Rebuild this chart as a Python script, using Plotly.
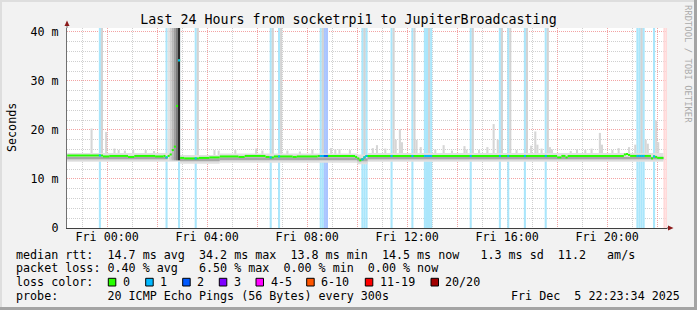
import plotly.graph_objects as go
from datetime import datetime, timedelta

# ---------------- data ----------------
TITLE = "Last 24 Hours from socketrpi1 to JupiterBroadcasting"

x_tick_times = ["00:00", "02:00", "04:00", "06:00", "08:00", "10:00",
                "12:00", "14:00", "16:00", "18:00", "20:00", "22:00"]
x_tick_text = ["Fri 00:00", "", "Fri 04:00", "", "Fri 08:00", "",
               "Fri 12:00", "", "Fri 16:00", "", "Fri 20:00", ""]
y_tick_vals = [0, 10, 20, 30, 40]
y_tick_text = ["0", "10 m", "20 m", "30 m", "40 m"]

# median RTT (ms), step values starting at each time
median_t = ["22:24", "23:50", "00:05", "00:50", "01:05", "01:55", "02:15", "02:20",
            "02:25", "02:30", "02:35", "02:40", "02:45", "02:50", "02:55", "03:05",
            "03:40", "04:05", "04:30", "05:15", "05:30", "06:20", "06:30", "06:40",
            "07:25", "07:35", "08:25", "09:55", "10:00", "10:05", "10:10", "10:15",
            "10:20", "18:00", "18:10", "18:20", "18:25", "20:40", "20:45", "20:50",
            "20:55", "21:45", "21:50", "21:55", "22:00"]
median_ms = [14.8, 14.6, 14.7, 14.5, 14.7, 14.6, 14.7, 14.4,
             14.7, 15.0, 15.9, 16.6, 24.9, 34.2, 14.3, 14.2,
             14.3, 14.4, 14.6, 14.5, 14.7, 14.5, 14.4, 14.6,
             14.5, 14.6, 14.7, 14.5, 14.2, 13.8, 14.0, 14.4,
             14.7, 14.4, 14.7, 14.4, 14.7, 15.0, 15.1, 14.9,
             14.7, 14.2, 14.6, 14.5, 14.3]
median_end = "22:15"

# packet loss steps (lost pings out of 20)
loss_t = ["23:40", "02:20", "02:50", "03:30", "06:30", "06:50", "08:30", "08:35",
          "08:40", "08:45", "10:10", "10:15", "10:20", "11:20", "12:10", "12:40",
          "12:45", "12:50", "12:55", "14:30", "15:40", "16:00", "16:40", "17:30",
          "21:10", "21:15", "21:20", "21:25", "21:50"]
loss_n = [1, 1, 1, 1, 1, 1, 1, 1,
          2, 2, 1, 1, 1, 1, 1, 1,
          1, 1, 1, 1, 1, 1, 1, 1,
          1, 1, 1, 1, 1]
pending_t = ["22:15", "22:20"]

# steps where some pings went above the top of the graph
offscale_t = ["23:45", "03:35", "06:35", "06:55", "08:35", "10:15", "11:25", "12:15",
              "12:50", "14:35", "15:45", "16:05", "16:45", "17:35", "21:20"]

# smoke spikes: highest ping of a step (ms)
spike_t = ["23:20", "23:55", "00:15", "00:25", "00:40", "01:00", "01:30", "01:50",
           "04:15", "04:25", "05:05", "05:55", "06:10", "07:10", "07:40", "08:10",
           "08:55", "09:05", "09:15", "09:40", "10:35", "10:45", "11:05", "11:30",
           "11:40", "11:45", "12:20", "12:30", "13:05", "13:25", "13:45", "14:15",
           "14:20", "14:50", "15:10", "15:25", "15:35", "16:20", "16:55", "17:05",
           "17:10", "17:20", "17:40", "17:45", "18:30", "18:45", "19:05", "19:20",
           "19:40", "19:45", "20:10", "20:25", "20:50", "21:05", "21:30", "21:35",
           "21:55", "22:00"]
spike_top = [20.3, 19.6, 16.2, 15.9, 15.8, 15.9, 15.9, 15.7,
             15.9, 15.8, 15.9, 16.2, 15.8, 15.8, 15.6, 16.0,
             16.3, 16.0, 16.1, 15.9, 16.3, 16.9, 16.2, 18.0,
             20.2, 17.5, 18.0, 16.5, 16.0, 16.9, 15.8, 16.7,
             16.0, 15.9, 16.5, 21.2, 18.0, 15.9, 16.8, 19.7,
             17.0, 16.2, 16.5, 16.0, 15.7, 16.0, 15.9, 16.2,
             19.4, 17.0, 15.9, 16.3, 16.5, 17.0, 18.0, 17.2,
             21.9, 17.5]

# the latency burst around 02:30 (whole smoke column above the graph)
burst_t = ["02:25", "02:30", "02:35", "02:40", "02:45", "02:50"]

# smoke band around the median (ms), each value holds from its start time
band_t = ["22:24", "02:55", "04:30", "10:00", "10:25"]
band_end = "22:15"
band_lo = [13.5, 13.1, 13.3, 13.0, 13.5]
band_hi = [15.3, 14.9, 15.2, 15.0, 15.3]
band_mid_lo = [13.8, 13.5, 13.7, 13.4, 13.8]
band_mid_hi = [14.6, 14.3, 14.5, 14.3, 14.6]
band_core_lo = [14.1, 13.8, 14.0, 13.7, 14.1]
band_core_hi = [14.5, 14.2, 14.4, 14.2, 14.5]

summary_rows = [
    "median rtt:  14.7 ms avg  34.2 ms max  13.8 ms min  14.5 ms now   1.3 ms sd  11.2   am/s",
    "packet loss: 0.40 % avg   6.50 % max  0.00 % min  0.00 % now",
    "loss color:",
    "probe:       20 ICMP Echo Pings (56 Bytes) every 300s",
]
loss_labels = ["0", "1", "2", "3", "4-5", "6-10", "11-19", "20/20"]
stamp_text = "Fri Dec  5 22:23:34 2025"
side_text = "RRDTOOL / TOBI OETIKER"
y_title = "Seconds"

# ---------------- styling ----------------
W, H = 697, 310
PL, PR, PT, PB = 67, 667, 28, 228
Y_TOP = 40.8
FONT = "DejaVu Sans Mono"
loss_colors = ["#26ff00", "#00b8ff", "#0059ff", "#7e00ff", "#ff00ff", "#ff5500", "#ff0000", "#a10000"]
loss_bar_colors = {1: "#aae6fb", 2: "#aac5ff"}
burst_colors = ["#e2e2e2", "#cfcfcf", "#b8b8b8", "#9e9e9e", "#7c7c7c", "#2a2a2a"]
T_START = datetime(2025, 12, 4, 22, 23, 34)
T_END = datetime(2025, 12, 5, 22, 23, 34)
STEP_MS = 300000


def ts(hhmm):
    h, m = map(int, hhmm.split(":"))
    day = 4 if (h, m) >= (22, 24) else 5
    return datetime(2025, 12, day, h, m)


def px(x):
    return (x - PL) / (PR - PL)


def py(y):
    return (PB - y) / (PB - PT)


def nb(s):
    return s.replace(" ", "\u00a0")


fig = go.Figure()

# loss bars (full height)
for n, col in loss_bar_colors.items():
    xs = [ts(t) for t, k in zip(loss_t, loss_n) if k == n]
    fig.add_trace(go.Bar(x=xs, y=[Y_TOP] * len(xs), base=0, width=STEP_MS, offset=0,
                         marker=dict(color=col, line=dict(width=0)), hoverinfo="skip"))
fig.add_trace(go.Bar(x=[ts(t) for t in pending_t], y=[Y_TOP] * len(pending_t), base=0,
                     width=STEP_MS, offset=0, marker=dict(color="#ffd9d9", line=dict(width=0)),
                     hoverinfo="skip"))

# off-scale smoke columns
fig.add_trace(go.Bar(x=[ts(t) for t in offscale_t], y=[Y_TOP - 14.8] * len(offscale_t), base=14.8,
                     width=STEP_MS, offset=0, marker=dict(color="#d3d3d3", line=dict(width=0)),
                     hoverinfo="skip"))
# smoke spikes
fig.add_trace(go.Bar(x=[ts(t) for t in spike_t], y=[v - 14.8 for v in spike_top], base=14.8,
                     width=STEP_MS, offset=0, marker=dict(color="#d6d6d6", line=dict(width=0)),
                     hoverinfo="skip"))

# smoke band layers
band_x = [ts(t) for t in band_t]
band_w = [((band_x[i + 1] if i + 1 < len(band_x) else ts(band_end)) - band_x[i]).total_seconds() * 1000
          for i in range(len(band_x))]
for lo, hi, col in [(band_lo, band_hi, "#e0e0e0"),
                    (band_mid_lo, band_mid_hi, "#cbcbcb"),
                    (band_core_lo, band_core_hi, "#a6a6a6")]:
    fig.add_trace(go.Bar(x=band_x, y=[h - l for l, h in zip(lo, hi)], base=lo, width=band_w, offset=0,
                         marker=dict(color=col, line=dict(width=0)), hoverinfo="skip"))

# latency burst columns
fig.add_trace(go.Bar(x=[ts(t) for t in burst_t], y=[Y_TOP - 13.8] * len(burst_t), base=13.8,
                     width=STEP_MS, offset=0, marker=dict(color=burst_colors, line=dict(width=0)),
                     hoverinfo="skip"))

# median line as per-step horizontal segments
med_x = [ts(t) for t in median_t] + [ts(median_end)]
seg_x, seg_y = [], []
for i, v in enumerate(median_ms):
    seg_x += [med_x[i], med_x[i + 1], None]
    seg_y += [v, v, None]
fig.add_trace(go.Scatter(x=seg_x, y=seg_y, mode="lines", line=dict(color=loss_colors[0], width=2),
                         hoverinfo="skip", connectgaps=False))


def median_at(t):
    val = median_ms[0]
    for mt, mv in zip(med_x[:-1], median_ms):
        if mt <= t:
            val = mv
    return val


for n in (1, 2):
    lx, ly = [], []
    for t, k in zip(loss_t, loss_n):
        if k == n:
            t0 = ts(t)
            v = median_at(t0)
            lx += [t0, t0 + timedelta(minutes=5), None]
            ly += [v, v, None]
    fig.add_trace(go.Scatter(x=lx, y=ly, mode="lines", line=dict(color=loss_colors[n], width=2),
                             hoverinfo="skip"))

grid_dash = "1px,1px"
fig.update_layout(
    width=W, height=H,
    margin=dict(l=PL, r=W - PR, t=PT, b=H - PB),
    paper_bgcolor="#f2f2f2", plot_bgcolor="#ffffff",
    barmode="overlay", showlegend=False,
    font=dict(family=FONT, size=11.7, color="#000000"),
    title=dict(text=TITLE, x=0.5, xref="container", xanchor="center",
               y=1 - 19 / H, yref="container", yanchor="middle",
               font=dict(family=FONT, size=13.3, color="#000000")),
    xaxis=dict(type="date", range=[T_START, T_END], tickmode="array",
               tickvals=[ts(t) for t in x_tick_times], ticktext=x_tick_text,
               showgrid=True, gridcolor="#f3a3a3", griddash=grid_dash, gridwidth=1,
               minor=dict(dtick=3600000, tick0="2025-12-05 00:00", showgrid=True,
                          gridcolor="#cfcfcf", griddash=grid_dash, gridwidth=1),
               showline=True, linecolor="#404040", linewidth=1, zeroline=False,
               ticks="", ticklabelstandoff=-2, tickfont=dict(family=FONT, size=11.7)),
    yaxis=dict(range=[0, Y_TOP], tickmode="array", tickvals=y_tick_vals, ticktext=y_tick_text,
               showgrid=True, gridcolor="#f3a3a3", griddash=grid_dash, gridwidth=1,
               minor=dict(dtick=2, tick0=0, showgrid=True, gridcolor="#cfcfcf",
                          griddash=grid_dash, gridwidth=1),
               showline=True, linecolor="#707070", linewidth=1, zeroline=False,
               ticks="", ticklabelstandoff=5, tickfont=dict(family=FONT, size=11.7)),
)

ann = []
row_y = [254.7, 268.3, 282.3, 296.0]
for txt, yy in zip(summary_rows, row_y):
    ann.append(dict(text=nb(txt), x=px(14), y=py(yy), xref="paper", yref="paper",
                    xanchor="left", yanchor="middle", showarrow=False,
                    font=dict(family=FONT, size=11.7, color="#000000")))
ann.append(dict(text=nb(stamp_text), x=px(682), y=py(296.0), xref="paper", yref="paper",
                xanchor="right", yanchor="middle", showarrow=False,
                font=dict(family=FONT, size=11.7, color="#000000")))
ann.append(dict(text=y_title, x=px(12), y=py(128), xref="paper", yref="paper",
                xanchor="center", yanchor="middle", textangle=-90, showarrow=False,
                font=dict(family=FONT, size=11.7, color="#000000")))
ann.append(dict(text=nb(side_text), x=px(688), y=py(64), xref="paper", yref="paper",
                xanchor="center", yanchor="middle", textangle=90, showarrow=False,
                font=dict(family=FONT, size=8.9, color="#aaaaaa")))

box_x = [108.3, 145.7, 182.7, 219.3, 256.0, 306.7, 365.3, 431.0]
shapes = []
for bx, lab, col in zip(box_x, loss_labels, loss_colors):
    shapes.append(dict(type="rect", xref="paper", yref="paper", x0=px(bx), x1=px(bx + 7.5),
                       y0=py(278.3), y1=py(286), fillcolor=col, line=dict(color="#000000", width=1)))
    ann.append(dict(text=lab, x=px(bx + 12.5), y=py(282.3), xref="paper", yref="paper",
                    xanchor="left", yanchor="middle", showarrow=False,
                    font=dict(family=FONT, size=11.7, color="#000000")))

# axis extensions and arrows
shapes.append(dict(type="line", xref="paper", yref="paper", x0=px(67), x1=px(67), y0=py(28), y1=py(24),
                   line=dict(color="#707070", width=1)))
shapes.append(dict(type="path", xref="paper", yref="paper",
                   path=f"M {px(64.5)} {py(26)} L {px(69.5)} {py(26)} L {px(67)} {py(20.5)} Z",
                   fillcolor="#8b1a1a", line=dict(width=0)))
shapes.append(dict(type="line", xref="paper", yref="paper", x0=px(667), x1=px(670), y0=py(228), y1=py(228),
                   line=dict(color="#404040", width=1)))
shapes.append(dict(type="path", xref="paper", yref="paper",
                   path=f"M {px(668)} {py(225.5)} L {px(668)} {py(230.5)} L {px(673.5)} {py(228)} Z",
                   fillcolor="#8b1a1a", line=dict(width=0)))
# frame edges
shapes.append(dict(type="rect", xref="paper", yref="paper", x0=px(694), x1=px(697), y0=py(0), y1=py(310),
                   fillcolor="#a4a4a4", line=dict(width=0), layer="above"))
shapes.append(dict(type="rect", xref="paper", yref="paper", x0=px(0), x1=px(697), y0=py(307), y1=py(310),
                   fillcolor="#a4a4a4", line=dict(width=0), layer="above"))
shapes.append(dict(type="rect", xref="paper", yref="paper", x0=px(0), x1=px(694), y0=py(0), y1=py(2),
                   fillcolor="#dedede", line=dict(width=0), layer="above"))
shapes.append(dict(type="rect", xref="paper", yref="paper", x0=px(0), x1=px(2), y0=py(0), y1=py(307),
                   fillcolor="#dedede", line=dict(width=0), layer="above"))

fig.update_layout(annotations=ann, shapes=shapes)
fig.write_html("out.html", config={"displayModeBar": False})
